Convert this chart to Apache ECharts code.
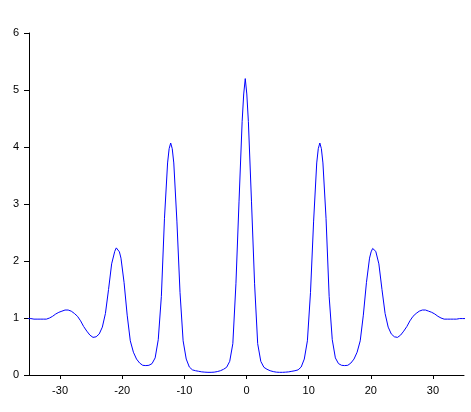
<!DOCTYPE html>
<html>
<head>
<meta charset="utf-8">
<script src="https://cdn.jsdelivr.net/npm/echarts@6/dist/echarts.min.js"></script>
<style>
  html, body { margin: 0; padding: 0; background: #fff; }
  #chart { width: 471px; height: 412px; }
</style>
</head>
<body>
<div id="chart"></div>
<script>
// sample positions along x (a few extra near the peak tops)
const xValues = [
  -35.2, -34.7, -34.2, -33.7, -33.2, -32.7, -32.2, -31.7, -31.2, -30.7,
  -30.2, -29.7, -29.2, -28.7, -28.2, -27.7, -27.2, -26.7, -26.2, -25.7,
  -25.2, -24.7, -24.2, -23.7, -23.2, -22.7, -22.2, -21.7, -21.2, -20.95, -20.7,
  -20.45, -20.2, -19.7, -19.2, -18.7, -18.2, -17.7, -17.2, -16.7, -16.2, -15.7,
  -15.2, -14.7, -14.2, -13.7, -13.2, -12.7, -12.45, -12.2, -11.95, -11.7, -11.2, -10.7,
  -10.2, -9.7, -9.2, -8.7, -8.2, -7.7, -7.2, -6.7, -6.2, -5.7,
  -5.2, -4.7, -4.2, -3.7, -3.2, -2.7, -2.2, -1.7, -1.2, -0.7, -0.45,
  -0.2, 0.05, 0.3, 0.8, 1.3, 1.8, 2.3, 2.8, 3.3, 3.8, 4.3,
  4.8, 5.3, 5.8, 6.3, 6.8, 7.3, 7.8, 8.3, 8.8, 9.3,
  9.8, 10.3, 10.8, 11.3, 11.55, 11.8, 12.05, 12.3, 12.8, 13.3, 13.8, 14.3,
  14.8, 15.3, 15.8, 16.3, 16.8, 17.3, 17.8, 18.3, 18.8, 19.3,
  19.8, 20.05, 20.3, 20.55, 20.8, 21.3, 21.8, 22.3, 22.8, 23.3, 23.8, 24.3,
  24.8, 25.3, 25.8, 26.3, 26.8, 27.3, 27.8, 28.3, 28.8, 29.3,
  29.8, 30.3, 30.8, 31.3, 31.8, 32.3, 32.8, 33.3, 33.8, 34.3,
  34.8, 35.3
];

// intensity
const intensity = [
  0.99, 0.99, 0.98, 0.98, 0.98, 0.98, 0.98, 1.0, 1.03, 1.07,
  1.1, 1.12, 1.14, 1.14, 1.12, 1.08, 1.03, 0.95, 0.85, 0.77,
  0.7, 0.66, 0.67, 0.72, 0.84, 1.08, 1.5, 1.95, 2.17, 2.23, 2.22,
  2.16, 2.05, 1.62, 1.05, 0.6, 0.4, 0.28, 0.21, 0.17, 0.165, 0.17,
  0.2, 0.3, 0.62, 1.38, 2.75, 3.72, 3.97, 4.07, 3.97, 3.72, 2.7, 1.45,
  0.6, 0.28, 0.14, 0.09, 0.075, 0.065, 0.055, 0.05, 0.047, 0.047,
  0.05, 0.06, 0.075, 0.1, 0.135, 0.24, 0.55, 1.6, 3.05, 4.45, 4.93,
  5.2, 4.93, 4.45, 3.05, 1.6, 0.55, 0.24, 0.135, 0.1, 0.075, 0.06,
  0.05, 0.047, 0.047, 0.05, 0.055, 0.065, 0.075, 0.09, 0.14, 0.28,
  0.6, 1.45, 2.7, 3.72, 3.97, 4.07, 3.97, 3.72, 2.75, 1.38, 0.62, 0.3,
  0.2, 0.17, 0.165, 0.17, 0.21, 0.28, 0.4, 0.6, 1.05, 1.62,
  2.05, 2.16, 2.22, 2.23, 2.17, 1.95, 1.5, 1.08, 0.84, 0.72, 0.67, 0.66,
  0.7, 0.77, 0.85, 0.95, 1.03, 1.08, 1.12, 1.14, 1.14, 1.12,
  1.1, 1.07, 1.03, 1.0, 0.98, 0.98, 0.98, 0.98, 0.98, 0.99,
  0.99, 0.99
];

const xTicks = [-30, -20, -10, 0, 10, 20, 30];

const chart = echarts.init(document.getElementById('chart'));

const labelFont = {
  color: '#000',
  fontFamily: 'Liberation Sans, Arial, sans-serif',
  fontSize: 11
};

const option = {
  animation: false,
  grid: { left: 29, right: 7, top: 33, bottom: 37 },
  xAxis: {
    type: 'value',
    min: -35,
    max: 35,
    splitLine: { show: false },
    axisLine: { show: true, onZero: false, lineStyle: { color: '#000', width: 1 } },
    axisTick: { show: true, length: 4, customValues: xTicks, lineStyle: { color: '#000' } },
    axisLabel: Object.assign({ margin: 10, customValues: xTicks }, labelFont)
  },
  yAxis: {
    type: 'value',
    min: 0,
    max: 6,
    interval: 1,
    splitLine: { show: false },
    axisLine: { show: true, onZero: false, lineStyle: { color: '#000', width: 1 } },
    axisTick: { show: true, length: 5, lineStyle: { color: '#000' } },
    axisLabel: Object.assign({ margin: 10 }, labelFont)
  },
  series: [{
    type: 'line',
    data: xValues.map((x, i) => [x, intensity[i]]),
    showSymbol: false,
    clip: true,
    lineStyle: { color: '#0000ff', width: 1 }
  }]
};

chart.setOption(option);
</script>
</body>
</html>
